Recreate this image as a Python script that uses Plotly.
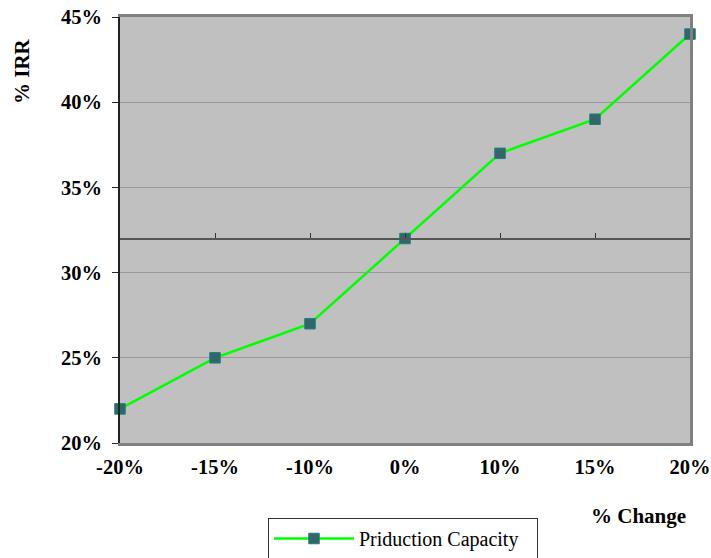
import plotly.graph_objects as go

# Sensitivity of IRR to production capacity
change_labels = ["-20%", "-15%", "-10%", "0%", "10%", "15%", "20%"]
irr_values = [22, 25, 27, 32, 37, 39, 44]
series_name = "Priduction Capacity"
y_ticks = [20, 25, 30, 35, 40, 45]
base_irr = 32

x_pos = list(range(len(change_labels)))
x_tick_text = [f"<b>{s}</b>" for s in change_labels]
y_tick_text = [f"<b>{v}%</b>" for v in y_ticks]

FONT = "Liberation Serif, Times New Roman, serif"
L, R, T, B = 120, 21, 17, 115
W, H = 711, 558
PW, PH = W - L - R, H - T - B

fig = go.Figure()
fig.add_trace(go.Scatter(
    x=x_pos, y=irr_values, name=series_name, mode="lines+markers",
    line=dict(color="#00FF00", width=2.5),
    marker=dict(symbol="square", size=10.5, color="#336666",
                line=dict(color="#1F7F80", width=1)),
    cliponaxis=False, showlegend=True,
))
# empty traces bound to the extra axes so they are drawn
fig.add_trace(go.Scatter(x=x_pos, y=[None] * len(x_pos), xaxis="x2",
                         showlegend=False, hoverinfo="skip"))
fig.add_trace(go.Scatter(x=x_pos, y=[None] * len(x_pos), yaxis="y2",
                         showlegend=False, hoverinfo="skip"))

tick_font = dict(family=FONT, size=20.5, color="black")

fig.update_layout(
    width=W, height=H,
    margin=dict(l=L, r=R, t=T, b=B, autoexpand=False),
    paper_bgcolor="white",
    plot_bgcolor="#C0C0C0",
    font=dict(family=FONT, color="black"),
    xaxis=dict(
        range=[0, 6], tickvals=x_pos, ticktext=x_tick_text,
        showgrid=False, zeroline=False, automargin=False,
        showline=True, linecolor="#808080", linewidth=2.5, mirror=True,
        ticks="", ticklabelstandoff=4,
        tickfont=tick_font,
    ),
    yaxis=dict(
        range=[20, 45], tickvals=y_ticks, ticktext=y_tick_text,
        showgrid=True, gridcolor="#999999", gridwidth=1, zeroline=False,
        automargin=False,
        showline=True, linecolor="#222222", linewidth=2,
        ticks="outside", ticklen=6, tickcolor="#222222",
        ticklabelstandoff=6,
        tickfont=tick_font,
    ),
    xaxis2=dict(
        range=[0, 6], tickvals=x_pos, overlaying="x", anchor="free",
        position=(base_irr - 20) / 25, automargin=False,
        showline=True, linecolor="#555555", linewidth=2,
        ticks="inside", ticklen=5, tickcolor="#333333", tickwidth=1,
        showticklabels=False, showgrid=False, zeroline=False,
    ),
    yaxis2=dict(
        range=[20, 45], overlaying="y", side="right", automargin=False,
        showline=True, linecolor="#808080", linewidth=2.5,
        showticklabels=False, showgrid=False, zeroline=False, ticks="",
    ),
    legend=dict(
        orientation="h",
        x=(268 - L) / PW, y=-(518 - (T + PH)) / PH,
        xanchor="left", yanchor="top",
        bordercolor="#333333", borderwidth=1, bgcolor="white",
        font=dict(family=FONT, size=20, color="black"),
        entrywidth=173, itemwidth=80,
    ),
    annotations=[
        dict(text="<b>% Change</b>", xref="paper", yref="paper",
             x=(638 - L) / PW, y=-(516 - (T + PH)) / PH,
             xanchor="center", yanchor="middle", showarrow=False,
             font=dict(family=FONT, size=21, color="black")),
        dict(text="<b>% IRR</b>", xref="paper", yref="paper",
             x=-(L - 22) / PW, y=(T + PH - 71) / PH,
             xanchor="center", yanchor="middle", showarrow=False,
             textangle=-90,
             font=dict(family=FONT, size=21, color="black")),
    ],
)

fig.write_html("out.html")
